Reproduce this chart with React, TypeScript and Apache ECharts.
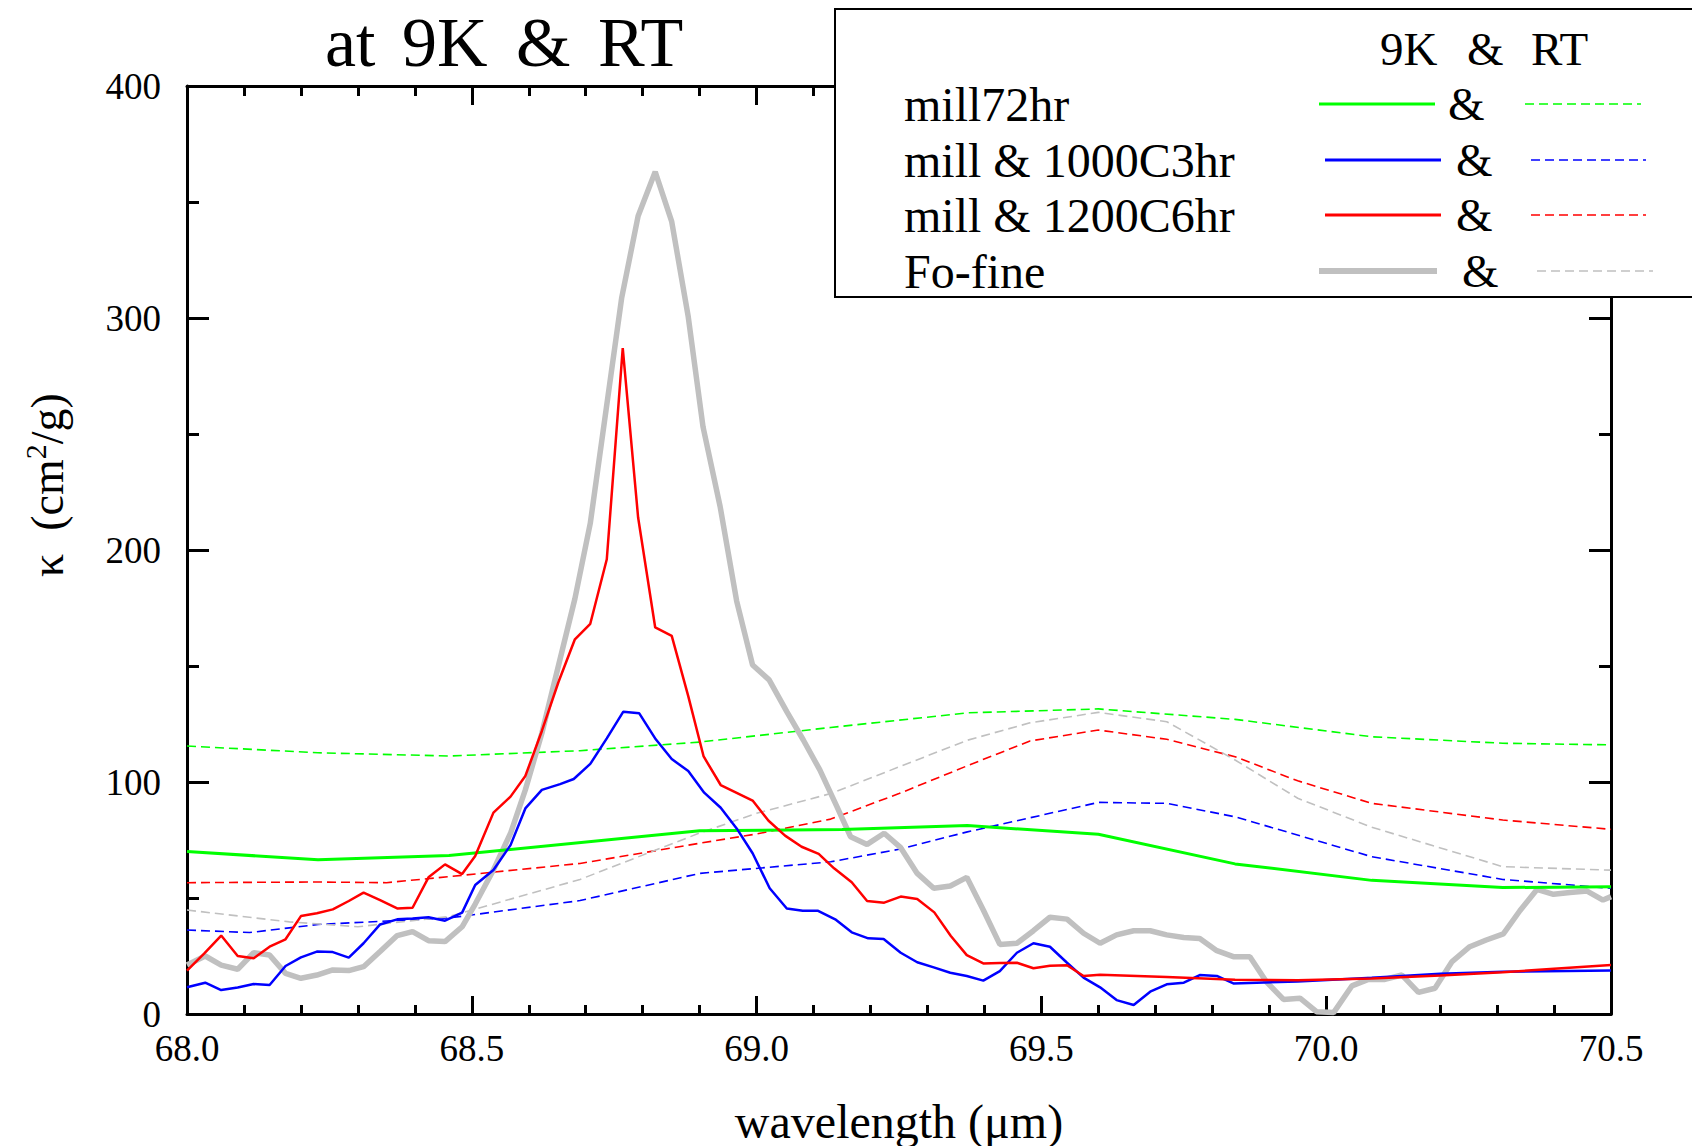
import React, { useEffect, useRef } from 'react';
import * as echarts from 'echarts';

const FONT = '"Liberation Serif", "Times New Roman", serif';

const xTickLabels = ['68.0', '68.5', '69.0', '69.5', '70.0', '70.5'];
const yTickLabels = ['0', '100', '200', '300', '400'];

const legendNames = ['mill72hr', 'mill & 1000C3hr', 'mill & 1200C6hr', 'Fo-fine'];
const legendColors = ['#00ff00', '#0000ff', '#ff0000', '#c0c0c0'];

// 9K spectra (solid)
const mill72hr9K: [number, number][] = [
  [68.0, 70], [68.23, 66.5], [68.46, 68.3], [68.9, 79], [69.15, 79.5], [69.37, 81.2],
  [69.6, 77.5], [69.84, 64.7], [70.08, 57.6], [70.31, 54.5], [70.5, 54.9],
];

const mill1000C9K: [number, number][] = [
  [68.0, 11.5], [68.032, 13.5], [68.06, 10.3], [68.089, 11.4], [68.117, 12.9], [68.145, 12.5],
  [68.173, 20.7], [68.2, 24.4], [68.228, 26.9], [68.256, 26.7], [68.284, 24.3], [68.31, 30.5],
  [68.339, 38.6], [68.369, 40.8], [68.396, 41.2], [68.424, 41.7], [68.453, 40.2], [68.483, 43.7],
  [68.506, 55.6], [68.538, 62.1], [68.568, 72.8], [68.594, 88.6], [68.623, 96.6], [68.655, 99.1],
  [68.679, 101.3], [68.708, 107.8], [68.737, 118.8], [68.766, 130.3], [68.794, 129.6], [68.823, 118.4],
  [68.851, 109.9], [68.88, 104.7], [68.908, 95.4], [68.937, 88.9], [68.965, 80], [68.993, 69.3],
  [69.023, 54.2], [69.053, 45.5], [69.081, 44.5], [69.108, 44.5], [69.138, 40.8], [69.167, 35.2],
  [69.196, 32.6], [69.223, 32.3], [69.253, 26.4], [69.282, 22.3], [69.311, 20.1], [69.34, 17.8],
  [69.369, 16.4], [69.398, 14.4], [69.427, 18.5], [69.457, 26.4], [69.486, 30.5], [69.515, 29],
  [69.545, 22.1], [69.574, 15.7], [69.603, 11.5], [69.632, 6], [69.662, 3.9], [69.691, 9.6],
  [69.72, 12.8], [69.75, 13.5], [69.778, 16.8], [69.808, 16.4], [69.837, 13.2], [69.95, 14],
  [70.08, 15.6], [70.2, 17.3], [70.31, 18.2], [70.5, 18.7],
];

const mill1200C9K: [number, number][] = [
  [68.0, 18.7], [68.03, 26], [68.06, 33.8], [68.089, 25], [68.117, 24], [68.145, 29],
  [68.173, 32.2], [68.2, 42.2], [68.228, 43.4], [68.256, 45.1], [68.284, 48.7], [68.31, 52.3],
  [68.339, 49.1], [68.369, 45.5], [68.396, 45.8], [68.424, 58.9], [68.453, 64.5], [68.483, 60.3],
  [68.506, 68.1], [68.538, 86.8], [68.568, 93.7], [68.594, 102.6], [68.623, 122], [68.652, 143],
  [68.681, 161.5], [68.708, 168.2], [68.737, 196], [68.765, 287], [68.792, 214], [68.822, 166.6],
  [68.851, 163], [68.88, 137], [68.907, 111], [68.937, 98.7], [68.993, 92], [69.021, 83.3],
  [69.05, 76.9], [69.079, 72.1], [69.109, 69], [69.136, 62.8], [69.167, 56.8], [69.194, 48.7],
  [69.224, 48], [69.253, 50.6], [69.282, 49.6], [69.312, 43.8], [69.341, 33.6], [69.369, 25.4],
  [69.398, 21.8], [69.427, 22], [69.457, 22.1], [69.486, 19.7], [69.515, 20.8], [69.545, 21],
  [69.574, 16.4], [69.603, 16.9], [69.72, 16], [69.84, 14.8], [69.95, 14.6], [70.08, 15.3],
  [70.2, 16.6], [70.31, 18], [70.4, 19.5], [70.5, 21.1],
];

const foFine9K: [number, number][] = [
  [68.0, 21.1], [68.032, 25], [68.06, 21.1], [68.089, 19.3], [68.117, 26.4], [68.145, 25.4],
  [68.173, 17.5], [68.2, 15.4], [68.228, 16.8], [68.256, 19], [68.284, 18.7], [68.31, 20.4],
  [68.339, 26.9], [68.369, 33.8], [68.396, 35.5], [68.424, 31.6], [68.453, 31.2], [68.483, 37.6],
  [68.506, 47.4], [68.538, 62.1], [68.568, 77.9], [68.594, 96.6], [68.623, 121], [68.652, 150],
  [68.681, 179], [68.708, 211.5], [68.763, 308.5], [68.792, 344], [68.822, 363], [68.851, 341.5],
  [68.88, 300.5], [68.906, 253], [68.936, 218.7], [68.965, 178], [68.993, 150.4], [69.022, 144],
  [69.053, 130.3], [69.082, 118.1], [69.111, 105.2], [69.141, 89.4], [69.165, 76.4], [69.194, 73.1],
  [69.224, 77.9], [69.253, 71.7], [69.282, 60.6], [69.311, 54.2], [69.34, 55.2], [69.369, 58.9],
  [69.398, 44.8], [69.427, 30], [69.457, 30.5], [69.486, 35.9], [69.515, 41.7], [69.545, 40.9],
  [69.574, 34.8], [69.603, 30.5], [69.632, 34.1], [69.662, 35.9], [69.691, 35.9], [69.72, 34.1],
  [69.75, 33], [69.778, 32.5], [69.808, 27.3], [69.837, 24.7], [69.866, 24.7], [69.895, 13.9],
  [69.925, 6.3], [69.954, 6.8], [69.983, 1], [70.013, 0.6], [70.045, 12.1], [70.074, 14.9],
  [70.103, 14.9], [70.133, 16.8], [70.162, 9.3], [70.191, 11.1], [70.221, 22.6], [70.252, 29],
  [70.281, 31.9], [70.311, 34.5], [70.34, 44.5], [70.37, 53.7], [70.399, 51.6], [70.428, 52.4],
  [70.458, 53], [70.486, 49.1], [70.5, 50.6],
];

// RT spectra (dashed)
const mill72hrRT: [number, number][] = [
  [68.0, 115.5], [68.23, 112.6], [68.46, 111.2], [68.69, 113.5], [68.9, 117.2], [69.13, 123.5],
  [69.37, 129.8], [69.6, 131.5], [69.84, 127], [70.08, 119.5], [70.31, 116.7], [70.5, 116],
];

const mill1000CRT: [number, number][] = [
  [68.0, 36.2], [68.11, 35.1], [68.23, 38.6], [68.46, 41.4], [68.69, 48.9], [68.9, 60.6],
  [69.13, 65.6], [69.25, 71], [69.37, 78.5], [69.6, 91.2], [69.72, 90.8], [69.84, 85],
  [70.08, 67.8], [70.31, 58], [70.5, 54.2],
];

const mill1200CRT: [number, number][] = [
  [68.0, 56.6], [68.23, 56.9], [68.35, 56.6], [68.46, 59.2], [68.69, 64.9], [68.9, 73.6],
  [69.0, 77.6], [69.13, 84], [69.25, 95], [69.37, 107], [69.48, 117.7], [69.6, 122.4],
  [69.72, 118.4], [69.84, 110.9], [69.95, 100.5], [70.08, 90.8], [70.31, 83.6], [70.5, 79.6],
];

const foFineRT: [number, number][] = [
  [68.0, 44.8], [68.18, 39.7], [68.3, 37.6], [68.46, 42], [68.69, 58], [68.9, 78],
  [69.0, 86.5], [69.13, 95], [69.37, 118], [69.48, 125.5], [69.6, 130], [69.72, 126],
  [69.84, 109.5], [69.95, 93], [70.08, 80.5], [70.31, 63.5], [70.5, 62],
];

const solidSeries = [mill72hr9K, mill1000C9K, mill1200C9K, foFine9K];
const dashedSeries = [mill72hrRT, mill1000CRT, mill1200CRT, foFineRT];
const solidWidths = [3, 2.5, 2.5, 5.5];
const drawOrder = [3, 0, 1, 2];

function txt(text: string, x: number, y: number, size: number, align = 'left', extra: any = {}) {
  return {
    type: 'text',
    x,
    y,
    z: 100,
    ...extra,
    style: {
      text,
      fontSize: size,
      fontFamily: FONT,
      fill: '#000',
      align,
      textAlign: align,
      verticalAlign: 'middle',
      textVerticalAlign: 'middle',
    },
  };
}

export default function App() {
  const ref = useRef<HTMLDivElement>(null);

  useEffect(() => {
    document.body.style.margin = '0';
    if (!ref.current) return;
    const chart = echarts.init(ref.current, null, { renderer: 'svg' });

    const axisCommon = {
      type: 'value',
      axisLine: { show: true, onZero: false, lineStyle: { color: '#000', width: 3 } },
      splitLine: { show: false },
      minorSplitLine: { show: false },
    };

    const xMin = parseFloat(xTickLabels[0]);
    const xMax = parseFloat(xTickLabels[xTickLabels.length - 1]);
    const yMax = parseFloat(yTickLabels[yTickLabels.length - 1]);

    const xAxis = [
      {
        ...axisCommon,
        position: 'bottom',
        min: xMin,
        max: xMax,
        interval: 0.5,
        axisTick: { show: true, inside: true, length: 18, lineStyle: { color: '#000', width: 3 } },
        minorTick: { show: true, splitNumber: 5, length: 9, lineStyle: { color: '#000', width: 3 } },
        axisLabel: {
          show: true,
          margin: 16,
          fontSize: 37,
          fontFamily: FONT,
          color: '#000',
          formatter: (v: number) => v.toFixed(1),
        },
      },
      {
        ...axisCommon,
        position: 'top',
        min: xMin,
        max: xMax,
        interval: 0.5,
        axisTick: { show: true, inside: true, length: 19, lineStyle: { color: '#000', width: 3 } },
        minorTick: { show: true, splitNumber: 5, length: 10, lineStyle: { color: '#000', width: 3 } },
        axisLabel: { show: false },
      },
    ];

    const yAxis = [
      {
        ...axisCommon,
        position: 'left',
        min: 0,
        max: yMax,
        interval: 100,
        axisTick: { show: true, inside: true, length: 22, lineStyle: { color: '#000', width: 3 } },
        minorTick: { show: true, splitNumber: 2, length: 12, lineStyle: { color: '#000', width: 3 } },
        axisLabel: { show: true, margin: 26, fontSize: 37, fontFamily: FONT, color: '#000' },
      },
      {
        ...axisCommon,
        position: 'right',
        min: 0,
        max: yMax,
        interval: 100,
        axisTick: { show: true, inside: true, length: 22, lineStyle: { color: '#000', width: 3 } },
        minorTick: { show: true, splitNumber: 2, length: 12, lineStyle: { color: '#000', width: 3 } },
        axisLabel: { show: false },
      },
    ];

    const series: any[] = [];
    dashedSeries.forEach((d, i) => {
      series.push({
        type: 'line',
        name: legendNames[i] + ' RT',
        data: d,
        symbol: 'none',
        xAxisIndex: 0,
        yAxisIndex: 0,
        lineStyle: { color: legendColors[i], width: 1.6, type: [9, 5] },
        z: 2,
      });
    });
    drawOrder.forEach((i, k) => {
      series.push({
        type: 'line',
        name: legendNames[i] + ' 9K',
        data: solidSeries[i],
        symbol: 'none',
        xAxisIndex: 0,
        yAxisIndex: 0,
        lineStyle: { color: legendColors[i], width: solidWidths[i] },
        z: 3 + k,
      });
    });

    // legend box
    const rowY = [104, 160, 215, 271];
    const solidX = [[1319, 1435], [1325, 1441], [1325, 1441], [1319, 1437]];
    const ampX = [1448, 1456, 1456, 1462];
    const dashX = [[1525, 1641], [1531, 1646], [1531, 1646], [1537, 1653]];
    const legendEls: any[] = [
      {
        type: 'rect',
        z: 90,
        shape: { x: 835, y: 9, width: 900, height: 288 },
        style: { fill: '#fff', stroke: '#000', lineWidth: 2 },
      },
      txt('9K', 1380, 49, 47),
      txt('&', 1467, 49, 47),
      txt('RT', 1531, 49, 47),
    ];
    legendNames.forEach((name, i) => {
      legendEls.push(txt(name, 904, rowY[i], 48));
      legendEls.push({
        type: 'line',
        z: 100,
        shape: { x1: solidX[i][0], y1: rowY[i], x2: solidX[i][1], y2: rowY[i] },
        style: { stroke: legendColors[i], lineWidth: i === 3 ? 6 : 3 },
      });
      legendEls.push(txt('&', ampX[i], rowY[i], 47));
      legendEls.push({
        type: 'line',
        z: 100,
        shape: { x1: dashX[i][0], y1: rowY[i], x2: dashX[i][1], y2: rowY[i] },
        style: { stroke: legendColors[i], lineWidth: 1.6, lineDash: [9, 5] },
      });
    });

    const titleEls = [
      txt('at', 325, 42, 70),
      txt('9K', 402, 42, 70),
      txt('&', 516, 42, 70),
      txt('RT', 598, 42, 70),
    ];

    const yName = {
      type: 'text',
      x: 45,
      y: 485,
      rotation: Math.PI / 2,
      z: 100,
      style: {
        text: '{a|κ  (cm}{s|2}{a|/g)}',
        align: 'center',
        textAlign: 'center',
        verticalAlign: 'middle',
        textVerticalAlign: 'middle',
        fill: '#000',
        fontFamily: FONT,
        fontSize: 46,
        rich: {
          a: { fontSize: 46, fontFamily: FONT, color: '#000', verticalAlign: 'bottom' },
          s: { fontSize: 30, fontFamily: FONT, color: '#000', verticalAlign: 'top', padding: [0, 0, 20, 0] },
        },
      },
    };

    const xName = txt('wavelength (μm)', 899, 1121, 48, 'center');

    chart.setOption({
      animation: false,
      backgroundColor: '#fff',
      grid: { left: 187, right: 81, top: 86, bottom: 132, containLabel: false },
      xAxis,
      yAxis,
      series,
      graphic: { elements: [...titleEls, ...legendEls, yName, xName] },
    });

    return () => chart.dispose();
  }, []);

  return <div ref={ref} style={{ width: 1692, height: 1146 }} />;
}
